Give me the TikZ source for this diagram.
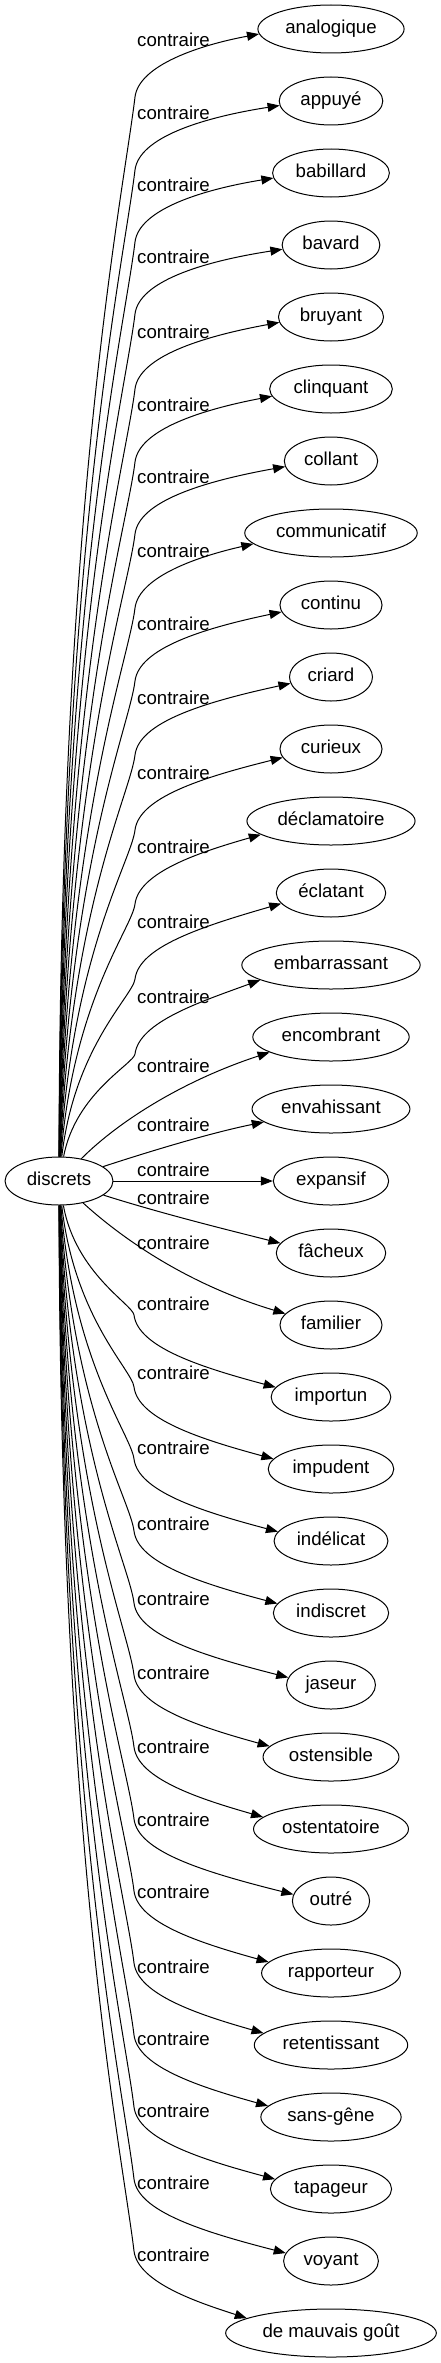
\documentclass[tikz,border=0pt]{standalone}
\usepackage{fontspec}
\setmainfont{Liberation Sans}
\usetikzlibrary{shapes.geometric,arrows.meta,calc}
\begin{document}
\begin{tikzpicture}[x=1pt,y=-1pt,
  font=\fontsize{18.67pt}{22pt}\selectfont,
  ent/.style={draw, ellipse, line width=1pt, inner xsep=6pt, inner ysep=2pt, minimum height=48pt, text height=13pt, text depth=4pt},
  lbl/.style={inner sep=0pt},
  conn/.style={line width=1pt, -{Triangle[length=12pt,width=9pt]}}]
\path[fill=white] (0,0) rectangle (440,2363);
\useasboundingbox (0,0) rectangle (440,2363);
\node[ent] (d) at (59,1181) {discrets};
\foreach \i/\w in {0/analogique,1/appuyé,2/babillard,3/bavard,4/bruyant,5/clinquant,6/collant,7/communicatif,8/continu,9/criard,10/curieux,11/déclamatoire,12/éclatant,13/embarrassant,14/encombrant,15/envahissant,16/expansif,17/fâcheux,18/familier,19/importun,20/impudent,21/indélicat,22/indiscret,23/jaseur,24/ostensible,25/ostentatoire,26/outré,27/rapporteur,28/retentissant,29/sans-gêne,30/tapageur,31/voyant,32/de mauvais goût}{
  \node[ent] (t\i) at (331,{29+72*\i}) {\w};
}
\foreach \i/\L in {0/40,1/113,2/185,3/257,4/332,5/405,6/477,7/551,8/624,9/698,10/773,11/847,12/922,13/997,14/1066,15/1125,16/1170,17/1198,18/1243,19/1304,20/1373,21/1448,22/1524,23/1599,24/1673,25/1747,26/1820,27/1892,28/1967,29/2039,30/2111,31/2183,32/2255}{
  \node[lbl] (l\i) at (173.5,\L) {contraire};
}
% upward edges
\foreach \i/\L in {0/40,1/113,2/185,3/257,4/332,5/405,6/477,7/551,8/624,9/698,10/773,11/847,12/922,13/997}{
  \pgfmathsetmacro\yt{29+72*\i}
  \pgfmathsetmacro\yB{\L+57}
  \pgfmathsetmacro\H{1157-\yB}
  \pgfmathsetmacro\h{0.095*\H}
  \pgfmathsetmacro\cay{1157-0.62*\H}
  \pgfmathsetmacro\sx{60+1.2*\i}
  \pgfmathsetmacro\cbx{135-0.12*\h}
  \pgfmathsetmacro\cby{\yB+\h}
  \pgfmathsetmacro\cc{\yB-32}
  \pgfmathsetmacro\cd{\L+5}
  \pgfmathtruncatemacro\al{180+min(12,0.45*(\L-\yt))}
  \draw[conn] (d) .. controls (\sx,\cay) and (\cbx,\cby) .. (135,\yB) .. controls (139,\cc) and (200,\cd) .. (t\i.\al);
}
\draw[conn] (d) .. controls (120,1120) and (185,1080) .. (t14.194);
\draw[conn] (d) .. controls (160,1148) and (215,1132) .. (t15.191);
\draw[conn] (d) -- (t16);
\draw[conn] (d) .. controls (160,1213) and (220,1228) .. (t17.169);
\draw[conn] (d) .. controls (115,1232) and (180,1282) .. (t18.166);
% downward edges
\foreach \i in {19,...,32}{
  \pgfmathsetmacro\yt{29+72*\i}
  \pgfmathsetmacro\yB{\yt-82}
  \pgfmathsetmacro\H{\yB-1205}
  \pgfmathsetmacro\h{0.095*\H}
  \pgfmathsetmacro\cay{1205+0.62*\H}
  \pgfmathsetmacro\sx{60+1.2*(32-\i)}
  \pgfmathsetmacro\cbx{134-0.12*\h}
  \pgfmathsetmacro\cby{\yB-\h}
  \pgfmathsetmacro\cc{\yB+32}
  \pgfmathsetmacro\cd{\yt-30}
  \draw[conn] (d) .. controls (\sx,\cay) and (\cbx,\cby) .. (134,\yB) .. controls (138,\cc) and (200,\cd) .. (t\i.170);
}
\end{tikzpicture}
\end{document}
